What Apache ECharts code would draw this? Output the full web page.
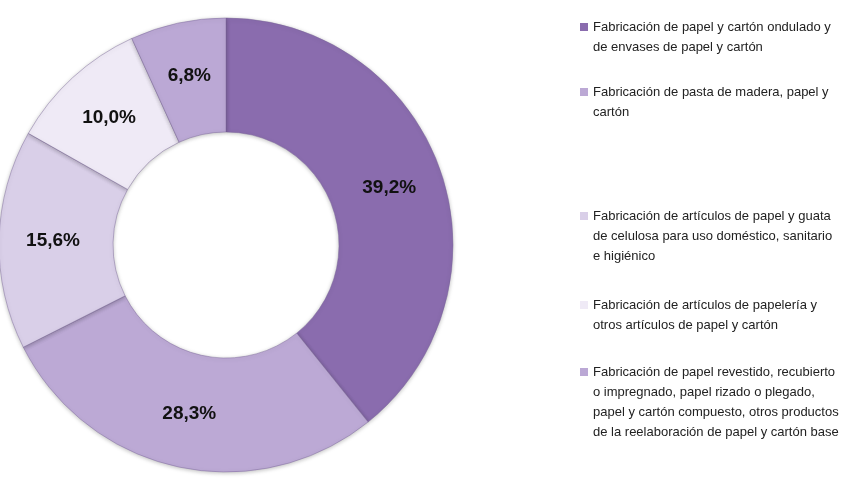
<!DOCTYPE html>
<html>
<head>
<meta charset="utf-8">
<script src="https://cdn.jsdelivr.net/npm/echarts@6/dist/echarts.min.js"></script>
<style>
  html, body { margin: 0; padding: 0; background: #fff; }
  #chart { width: 843px; height: 489px; }
</style>
</head>
<body>
<div id="chart"></div>
<script>
// categorías (con saltos de línea como en la leyenda original)
const categories = [
    'Fabricación de papel y cartón ondulado y\nde envases de papel y cartón',
    'Fabricación de pasta de madera, papel y\ncartón',
    'Fabricación de artículos de papel y guata\nde celulosa para uso doméstico, sanitario\ne higiénico',
    'Fabricación de artículos de papelería y\notros artículos de papel y cartón',
    'Fabricación de papel revestido, recubierto\no impregnado, papel rizado o plegado,\npapel y cartón compuesto, otros productos\nde la reelaboración de papel y cartón base'
]
const values = [39.2, 28.3, 15.6, 10.0, 6.8]
const colors = ['#8a6cae', '#bca9d5', '#d9cfe8', '#efeaf6', '#bba8d5']

// posición vertical de la primera línea de cada entrada de la leyenda
const legendFirstLine = [27, 92, 216, 305, 372]
const lineH = 20

const chart = echarts.init(document.getElementById('chart'))

// el icono queda centrado en el bloque de texto: se añaden líneas vacías
// arriba para que quede a la altura de la primera línea
const legends = categories.map((name, i) => {
    const n = name.split('\n').length
    return {
        orient: 'vertical',
        left: 580,
        top: legendFirstLine[i] - (2 * n - 1) * lineH / 2,
        padding: 0,
        itemWidth: 8,
        itemHeight: 8,
        icon: 'rect',
        itemStyle: { borderWidth: 0, shadowBlur: 0 },
        selectedMode: false,
        data: [name],
        formatter: nm => '\n'.repeat(n - 1) + nm,
        textStyle: {
            fontFamily: 'Liberation Sans, Arial, sans-serif',
            fontSize: 13,
            color: '#222',
            lineHeight: lineH
        }
    }
})

const option = {
    color: colors,
    legend: legends,
    series: [
        {
            type: 'pie',
            center: [226, 245],
            radius: [113, 227],
            startAngle: 90,
            clockwise: true,
            avoidLabelOverlap: false,
            itemStyle: {
                borderColor: 'rgba(120,100,150,0.45)',
                borderWidth: 1,
                shadowBlur: 4,
                shadowColor: 'rgba(0,0,0,0.25)',
                shadowOffsetY: 1
            },
            label: {
                position: 'inside',
                formatter: p => p.value.toFixed(1).replace('.', ',') + '%',
                fontFamily: 'Liberation Sans, Arial, sans-serif',
                fontWeight: 'bold',
                fontSize: 19,
                color: '#111'
            },
            labelLine: { show: false },
            emphasis: { disabled: true },
            data: categories.map((name, i) => ({ name, value: values[i] }))
        }
    ]
}

chart.setOption(option)
</script>
</body>
</html>
